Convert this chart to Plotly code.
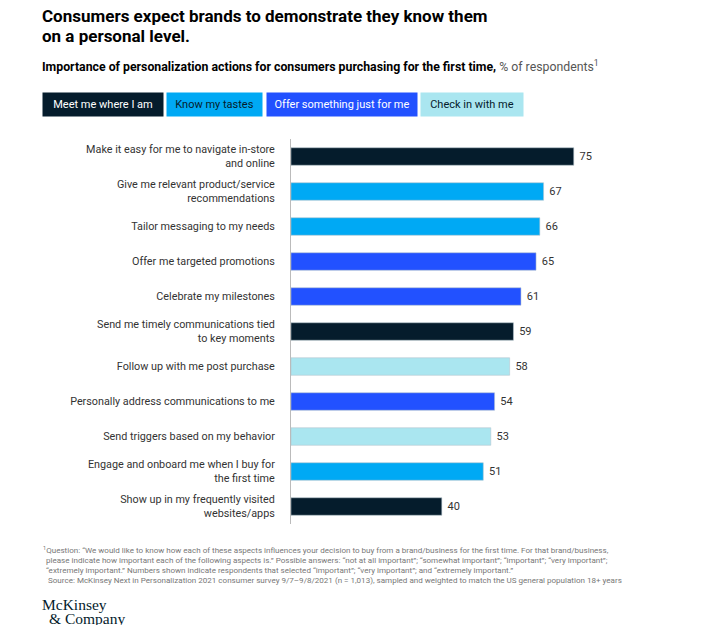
import plotly.graph_objects as go

# ---------------- data ----------------
categories = [
    "Make it easy for me to navigate in-store<br>and online",
    "Give me relevant product/service<br>recommendations",
    "Tailor messaging to my needs",
    "Offer me targeted promotions",
    "Celebrate my milestones",
    "Send me timely communications tied<br>to key moments",
    "Follow up with me post purchase",
    "Personally address communications to me",
    "Send triggers based on my behavior",
    "Engage and onboard me when I buy for<br>the first time",
    "Show up in my frequently visited<br>websites/apps",
]
values = [75, 67, 66, 65, 61, 59, 58, 54, 53, 51, 40]
groups = [
    "Meet me where I am", "Know my tastes", "Know my tastes",
    "Offer something just for me", "Offer something just for me",
    "Meet me where I am", "Check in with me", "Offer something just for me",
    "Check in with me", "Know my tastes", "Meet me where I am",
]
group_names = ["Meet me where I am", "Know my tastes",
               "Offer something just for me", "Check in with me"]
group_colors = {
    "Meet me where I am": "#051C2C",
    "Know my tastes": "#00A9F4",
    "Offer something just for me": "#2251FF",
    "Check in with me": "#AAE6F0",
}
group_text_colors = {
    "Meet me where I am": "#FFFFFF",
    "Know my tastes": "#051C2C",
    "Offer something just for me": "#FFFFFF",
    "Check in with me": "#051C2C",
}

title_lines = ["Consumers expect brands to demonstrate they know them",
               "on a personal level."]
subtitle_bold = "Importance of personalization actions for consumers purchasing for the first time,"
subtitle_rest = " % of respondents<sup>1</sup>"
footnote_lines = [
    "<sup>1</sup>Question: “We would like to know how each of these aspects influences your decision to buy from a brand/business for the first time. For that brand/business,",
    "please indicate how important each of the following aspects is.” Possible answers: “not at all important”; “somewhat important”; “important”; “very important”;",
    "“extremely important.” Numbers shown indicate respondents that selected “important”; “very important”; and “extremely important.”",
    "Source: McKinsey Next in Personalization 2021 consumer survey 9/7–9/8/2021 (n = 1,013), sampled and weighted to match the US general population 18+ years",
]
footnote_indent = [0, 3, 3, 5]

# ---------------- layout geometry ----------------
# the page body has an 8px default margin, so the figure starts at (8, 8)
OFF = 8
W_FIG, H_FIG = 714 - OFF, 625 - OFF
L, R, T, B = 291 - OFF, 46, 139 - OFF, 109 - OFF
PW = W_FIG - L - R
PH = H_FIG - T - B


def px(x):
    return (x - OFF - L) / PW


def py(y):
    return 1 - (y - OFF - T) / PH


FONT = "Roboto, Arial, sans-serif"

fig = go.Figure()
fig.add_trace(go.Bar(
    x=values,
    y=categories,
    orientation="h",
    marker=dict(color=[group_colors[g] for g in groups],
                line=dict(color="rgba(180,195,205,0.7)", width=0.8)),
    width=0.5,
    text=[f" {v}" for v in values],
    textposition="outside",
    textfont=dict(size=11, color="#333333", family=FONT),
    cliponaxis=False,
    showlegend=False,
    hoverinfo="skip",
))

ann = []
# title
for i, line in enumerate(title_lines):
    ann.append(dict(text=f"<b>{line}</b>", x=px(40), y=py(16 + 20 * i),
                    xanchor="left", yanchor="middle",
                    font=dict(size=17, color="#000000", family=FONT)))
# subtitle
ann.append(dict(text=f"<b>{subtitle_bold}</b><span style='color:#555555'>{subtitle_rest}</span>",
                x=px(40), y=py(66), xanchor="left", yanchor="middle",
                font=dict(size=12.3, color="#000000", family=FONT)))
# legend boxes
box_left = [42, 166, 266, 420]
box_width = [120, 95, 150, 102]
for g, bx, bw in zip(group_names, box_left, box_width):
    ann.append(dict(text=g, x=px(bx), y=py(104.5), xanchor="left", yanchor="middle",
                    width=bw, height=23, align="center", valign="middle",
                    bgcolor=group_colors[g], borderpad=0,
                    font=dict(size=11, color=group_text_colors[g], family=FONT)))
# footnotes
for i, line in enumerate(footnote_lines):
    ann.append(dict(text=line, x=px(41 + footnote_indent[i]), y=py(550 + 10 * i),
                    xanchor="left", yanchor="middle",
                    font=dict(size=8.05, color="#777777", family=FONT)))
# logo
ann.append(dict(text="McKinsey", x=px(40), y=py(604), xanchor="left", yanchor="middle",
                font=dict(size=15.5, color="#051C2C", family="Liberation Serif, serif")))
ann.append(dict(text="&amp; Company", x=px(47), y=py(618), xanchor="left", yanchor="middle",
                font=dict(size=15.5, color="#051C2C", family="Liberation Serif, serif")))
for a in ann:
    a.update(xref="paper", yref="paper", showarrow=False)

fig.update_layout(
    width=W_FIG, height=H_FIG,
    margin=dict(l=L, r=R, t=T, b=B, pad=0, autoexpand=False),
    paper_bgcolor="white", plot_bgcolor="white",
    font=dict(family=FONT, color="#333333"),
    annotations=ann,
    bargap=0.5,
    xaxis=dict(range=[0, 100], visible=False, fixedrange=True),
    yaxis=dict(autorange="reversed", showgrid=False, zeroline=False,
               showline=True, linecolor="#bbbbbb", linewidth=1,
               ticks="", ticklabelstandoff=13,
               tickfont=dict(size=10.8, color="#333333", family=FONT)),
)

fig.write_html("out.html")
